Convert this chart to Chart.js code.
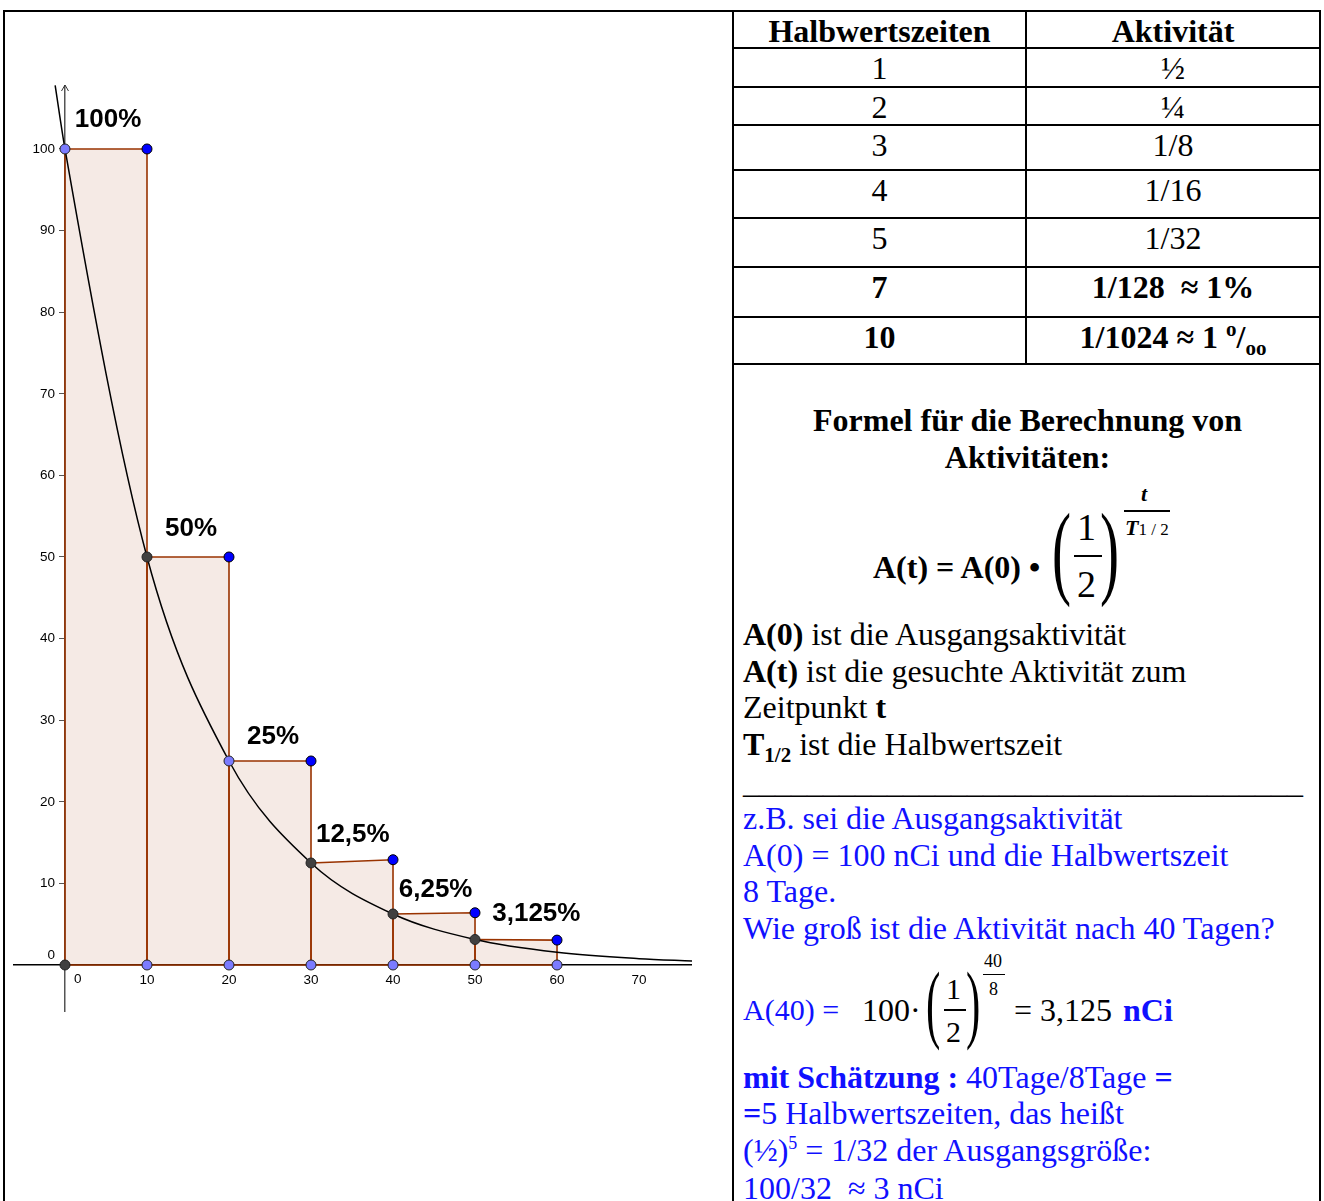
<!DOCTYPE html>
<html>
<head>
<meta charset="utf-8">
<script src="https://cdn.jsdelivr.net/npm/chart.js@4.4.1/dist/chart.umd.min.js"></script>
<style>
  html, body { margin: 0; padding: 0; background: #fff; }
  body {
    width: 1324px; height: 1201px; position: relative; overflow: hidden;
    font-family: "Liberation Serif", "Times New Roman", serif; color: #000;
  }
  #frame { position: absolute; left: 3px; top: 10px; width: 1318px; height: 1300px;
    border: 2px solid #000; box-sizing: border-box; }
  #divider { position: absolute; left: 732px; top: 10px; width: 2px; height: 1300px; background: #000; }
  #chartBox { position: absolute; left: 13px; top: 85px; width: 679px; height: 927px; }
  #tbl { position: absolute; left: 732px; top: 10px; width: 589px; border-collapse: collapse; table-layout: fixed; }
  #tbl td, #tbl th { border: 2px solid #000; text-align: center; vertical-align: top;
    padding: 3px 0 0 0; font-size: 32px; line-height: 32px; }
  #tbl th { font-weight: bold; }
  #tbl .b { font-weight: bold; }
  .t { position: absolute; white-space: nowrap; font-size: 32px; line-height: 36px; }
  .blue { color: #1010ff; }
  .bar { position: absolute; height: 1.5px; background: #000; }
  .par { position: absolute; font-weight: 100; transform-origin: 0 0; line-height: 1; }
</style>
</head>
<body>
<div id="frame"></div>
<div id="divider"></div>
<div id="chartBox"><canvas id="chart"></canvas></div>

<table id="tbl"><colgroup><col style="width:293px"><col></colgroup><tbody id="tbody"></tbody></table>

<!-- Formel -->
<div class="t" style="left:734px;width:587px;text-align:center;top:402px;font-weight:bold;">Formel für die Berechnung von</div>
<div class="t" style="left:734px;width:587px;text-align:center;top:439px;font-weight:bold;">Aktivitäten:</div>

<div class="t" style="left:873px;top:549px;font-weight:bold;">A(t) = A(0) •</div>
<div class="par" style="left:1052px;top:498px;font-size:104px;transform:scale(0.55,1);">(</div>
<div class="par" style="left:1100px;top:498px;font-size:104px;transform:scale(0.55,1);">)</div>
<div class="t" style="left:1077px;top:505px;font-size:38px;line-height:44px;">1</div>
<div class="bar" style="left:1074px;top:555px;width:28px;"></div>
<div class="t" style="left:1077px;top:562px;font-size:38px;line-height:44px;">2</div>
<div class="t" style="left:1141px;top:481px;font-size:22px;line-height:26px;font-weight:bold;font-style:italic;">t</div>
<div class="bar" style="left:1124px;top:510px;width:46px;"></div>
<div class="t" style="left:1125px;top:515px;font-size:22px;line-height:26px;font-weight:bold;font-style:italic;">T<span style="font-size:17px;font-weight:normal;font-style:normal;">1 / 2</span></div>

<div class="t" style="left:743px;top:616px;"><b>A(0)</b> ist die Ausgangsaktivität</div>
<div class="t" style="left:743px;top:653px;"><b>A(t)</b> ist die gesuchte Aktivität zum</div>
<div class="t" style="left:743px;top:689px;">Zeitpunkt <b>t</b></div>
<div class="t" style="left:743px;top:726px;"><b>T<sub style="font-size:21px;line-height:0;">1/2</sub></b> ist die Halbwertszeit</div>
<div class="t" style="left:743px;top:764px;">___________________________________</div>

<div class="t blue" style="left:743px;top:800px;">z.B. sei die Ausgangsaktivität</div>
<div class="t blue" style="left:743px;top:837px;">A(0) = 100 nCi und die Halbwertszeit</div>
<div class="t blue" style="left:743px;top:873px;">8 Tage.</div>
<div class="t blue" style="left:743px;top:910px;">Wie groß ist die Aktivität nach 40 Tagen?</div>

<div class="t blue" style="left:743px;top:992px;font-size:30px;">A(40) =</div>
<div class="t" style="left:862px;top:992px;">100·</div>
<div class="par" style="left:926px;top:960px;font-size:86px;transform:scale(0.5,1);">(</div>
<div class="par" style="left:966px;top:960px;font-size:86px;transform:scale(0.5,1);">)</div>
<div class="t" style="left:946px;top:972px;font-size:30px;line-height:34px;">1</div>
<div class="bar" style="left:944px;top:1009px;width:22px;"></div>
<div class="t" style="left:946px;top:1015px;font-size:30px;line-height:34px;">2</div>
<div class="t" style="left:984px;top:950px;font-size:18px;line-height:22px;">40</div>
<div class="bar" style="left:983px;top:974px;width:22px;height:1px;"></div>
<div class="t" style="left:989px;top:978px;font-size:18px;line-height:22px;">8</div>
<div class="t" style="left:1014px;top:992px;">= 3,125</div>
<div class="t blue" style="left:1123px;top:992px;font-weight:bold;">nCi</div>

<div class="t blue" style="left:743px;top:1059px;"><b>mit Schätzung :</b> 40Tage/8Tage <b>=</b></div>
<div class="t blue" style="left:743px;top:1095px;"><b>=</b>5 Halbwertszeiten, das heißt</div>
<div class="t blue" style="left:743px;top:1132px;">(½)<sup style="font-size:18px;line-height:0;">5</sup> = 1/32 der Ausgangsgröße:</div>
<div class="t blue" style="left:743px;top:1170px;">100/32&nbsp; ≈ 3 nCi</div>

<script>
// ---- Tabelle ----
const halfLives = ["1", "2", "3", "4", "5", "7", "10"];
const activities = ["½", "¼", "1/8", "1/16", "1/32", "1/128&nbsp; ≈ 1%", "1/1024 ≈ 1 <sup style='font-size:21px;line-height:0'>o</sup>/<sub style='font-size:21px;line-height:0'>oo</sub>"];
const boldRows = [false, false, false, false, false, true, true];

// ---- Diagramm ----
const xTicks = [0, 10, 20, 30, 40, 50, 60, 70];
const yTicks = [0, 10, 20, 30, 40, 50, 60, 70, 80, 90, 100];
const stepX = [0, 10, 20, 30, 40, 50, 60];
const leftTops = [100, 50, 25, 12.5, 6.25, 3.125];   // linke Ecken, auf der Kurve
const rightTops = [100, 50, 25, 12.9, 6.4, 3.05];    // blaue Punkte
const curveX = [-1.2, 0, 10, 20, 30, 40, 50, 60, 70, 76.5];
const curveY = [107.8, 100, 50, 25, 12.5, 6.25, 3.125, 1.56, 0.78, 0.5];
const pctLabels = ["100%", "50%", "25%", "12,5%", "6,25%", "3,125%"];
const pctX = [1.2, 12.2, 22.2, 30.6, 40.7, 52.1];
const pctY = [103.6, 53.4, 28.0, 16.0, 9.2, 6.3];

// Tabelle aufbauen
const rowHeights = [37, 39, 38, 45, 48, 49, 50, 47];
const tbody = document.getElementById("tbody");
tbody.innerHTML =
  `<tr style="height:${rowHeights[0]}px"><th>Halbwertszeiten</th><th>Aktivität</th></tr>` +
  halfLives.map((h, i) => {
    const cls = boldRows[i] ? ' class="b"' : "";
    return `<tr style="height:${rowHeights[i + 1]}px"><td${cls}>${h}</td><td${cls}>${activities[i]}</td></tr>`;
  }).join("");

// Farben
const brown = "rgb(153, 51, 0)";
const brownFill = "rgba(153, 51, 0, 0.1)";
const blue = "#0000ff";
const dark = "#404040";
const lavender = "#7b7bff";
const leftTopColors = [lavender, dark, lavender, dark, dark, dark];

// Rechtecke als geschlossene Linien
const rectSets = stepX.slice(0, 6).map((x0, i) => {
  const x1 = stepX[i + 1];
  return {
    type: "line",
    data: [
      { x: x0, y: 0 }, { x: x0, y: leftTops[i] }, { x: x1, y: rightTops[i] },
      { x: x1, y: 0 }, { x: x0, y: 0 },
    ],
    borderColor: brown,
    backgroundColor: brownFill,
    borderWidth: 1.6,
    pointRadius: 0,
    tension: 0,
    fill: "shape",
    order: 3,
  };
});

const pointStyle = (colors, border) => ({
  type: "scatter",
  pointRadius: 5,
  pointBorderWidth: 1,
  pointBorderColor: border,
  pointBackgroundColor: colors,
  order: 0,
});

const datasets = [
  ...rectSets,
  {
    type: "line",
    data: curveX.map((x, i) => ({ x, y: curveY[i] })),
    borderColor: "#000",
    borderWidth: 1.5,
    pointRadius: 0,
    cubicInterpolationMode: "monotone",
    fill: false,
    order: 2,
  },
  // blaue Punkte oben rechts
  Object.assign(pointStyle(blue, "#000"), {
    data: stepX.slice(1).map((x, i) => ({ x, y: rightTops[i] })),
  }),
  // linke Ecken
  Object.assign(pointStyle(leftTopColors, "#222"), {
    data: stepX.slice(0, 6).map((x, i) => ({ x, y: leftTops[i] })),
  }),
  // Punkte auf der x-Achse
  Object.assign(pointStyle(stepX.map((x, i) => (i === 0 ? dark : lavender)), "#222"), {
    data: stepX.map((x) => ({ x, y: 0 })),
  }),
];

const ctx = document.getElementById("chart").getContext("2d");

new Chart(ctx, {
  type: "scatter",
  data: { datasets },
  options: {
    responsive: true,
    maintainAspectRatio: false,
    animation: false,
    layout: { padding: 0, autoPadding: false },
    plugins: { legend: { display: false }, tooltip: { enabled: false } },
    scales: {
      x: {
        type: "linear",
        min: -6.34,
        max: 76.46,
        position: { y: 0 },
        afterBuildTicks: (axis) => { axis.ticks = xTicks.map((v) => ({ value: v })); },
        afterFit: (axis) => { axis.paddingLeft = 0; axis.paddingRight = 0; axis.paddingTop = 0; axis.paddingBottom = 0; },
        grid: { display: true, drawOnChartArea: false, drawTicks: false },
        border: { display: true, color: "#000", width: 1.5 },
        ticks: {
          padding: 7,
          color: "#000",
          font: { family: "Liberation Sans, Arial", size: 13.5 },
          callback: (v) => (v === 0 ? "" : String(v)),
        },
      },
      y: {
        type: "linear",
        min: -5.76,
        max: 107.84,
        position: { x: 0 },
        afterBuildTicks: (axis) => { axis.ticks = yTicks.map((v) => ({ value: v })); },
        afterFit: (axis) => { axis.paddingLeft = 0; axis.paddingRight = 0; axis.paddingTop = 0; axis.paddingBottom = 0; },
        grid: { display: true, drawOnChartArea: false, drawTicks: true, tickLength: 5, color: "#555" },
        border: { display: true, color: "#555", width: 1.5 },
        ticks: { display: false },
      },
    },
  },
  plugins: [
    {
      id: "labels",
      afterDatasetsDraw(chart) {
        const { ctx, scales: { x, y }, chartArea } = chart;
        const x0 = x.getPixelForValue(0);
        const y0 = y.getPixelForValue(0);
        ctx.save();

        // y-Beschriftung links neben der Achse
        ctx.font = '13.5px "Liberation Sans", Arial';
        ctx.fillStyle = "#000";
        ctx.textAlign = "right";
        ctx.textBaseline = "middle";
        yTicks.forEach((v) => {
          if (v === 0) ctx.fillText("0", x0 - 10, y0 - 10);
          else ctx.fillText(String(v), x0 - 10, y.getPixelForValue(v));
        });

        // x-Null rechts unter dem Ursprung
        ctx.textAlign = "left";
        ctx.fillText("0", x0 + 9, y0 + 14);

        // Prozentangaben
        ctx.font = 'bold 26px "Liberation Sans", Arial';
        pctLabels.forEach((t, i) => ctx.fillText(t, x.getPixelForValue(pctX[i]), y.getPixelForValue(pctY[i])));

        // Pfeil an der y-Achse
        ctx.strokeStyle = "#333";
        ctx.lineWidth = 1;
        ctx.beginPath();
        ctx.moveTo(x0 - 3.5, chartArea.top + 6);
        ctx.lineTo(x0, chartArea.top);
        ctx.lineTo(x0 + 3.5, chartArea.top + 6);
        ctx.stroke();
        ctx.restore();
      },
    },
  ],
});
</script>
</body>
</html>
